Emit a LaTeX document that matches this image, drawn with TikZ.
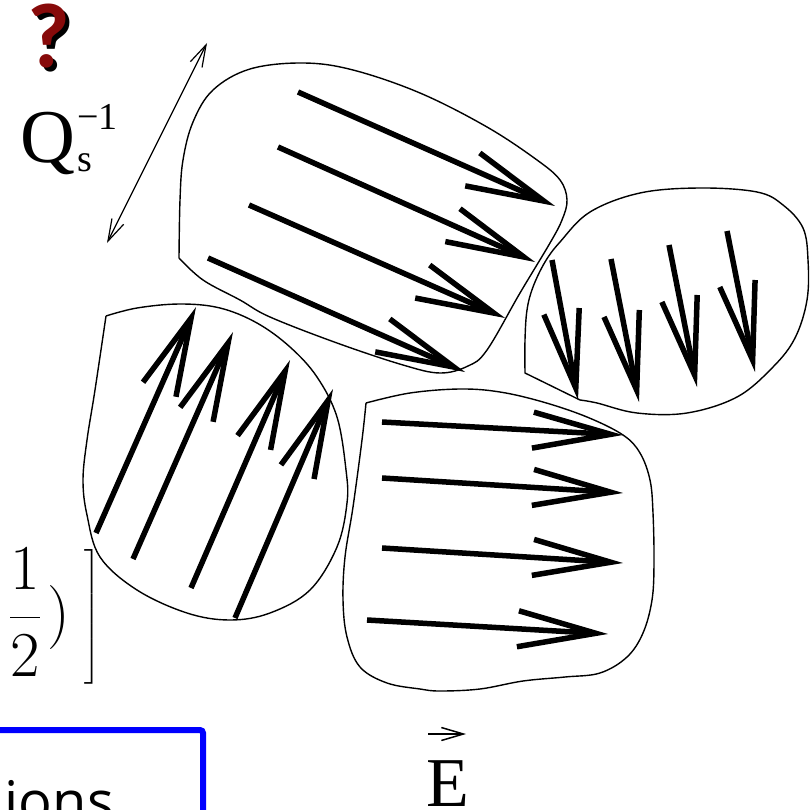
\RequirePackage{fix-cm}
\documentclass[tikz,border=0pt]{standalone}
\usepackage{exscale}
\usepackage[no-math]{fontspec}
\usepackage{tikz}
\usetikzlibrary{arrows.meta}
\newfontfamily\timesfont{Liberation Serif}
\newfontfamily\slidefont{Open Sans}
\newfontfamily\calfont{Carlito}
\definecolor{questred}{RGB}{135,10,10}
\definecolor{slideblue}{RGB}{0,0,255}

\begin{document}
\begin{tikzpicture}[x=1pt, y=-1pt, every node/.style={inner sep=0pt}]
  \tikzstyle{domainline}=[line width=1.4pt, line join=round]
  \tikzstyle{fieldarrow}=[line width=5.5pt, -{Straight Barb[length=78pt, width=36pt, sharp]}]
  \tikzstyle{scalearrow}=[line width=1.2pt, {Straight Barb[length=22pt, width=13pt]}-{Straight Barb[length=22pt, width=13pt]}]
  \tikzstyle{vecarrow}=[line width=1.5pt, -{Straight Barb[length=22pt, width=13pt]}]
  \useasboundingbox (0,0) rectangle (809,810);
  \clip (0,0) rectangle (809,810);

  % colour domains
  \draw[domainline] plot[smooth, tension=0.6] coordinates {(179,258) (180,200) (183,160) (193,122) (213,90) (250,69) (303,63) (353,70) (420,93) (487,127) (537,160) (560,180) (567,200) (562,220) (550,243) (520,293) (487,350) (468,366) (440,373) (403,365) (337,343) (270,317) (240,300) (203,280) (179,258)};
  \draw[domainline] plot[smooth, tension=0.6] coordinates {(525,373) (525,340) (527,310) (533,287) (545,262) (560,242) (590,212) (640,193) (700,188) (757,192) (783,205) (803,228) (808,260) (807,300) (795,338) (773,367) (737,397) (687,413) (637,413) (597,403) (580,400)} -- cycle;
  \draw[domainline] plot[smooth, tension=0.6] coordinates {(106,316) (95,390) (87,440) (83,480) (87,515) (100,557) (137,590) (187,613) (230,620) (270,613) (310,590) (337,547) (347,503) (346,470) (337,417) (317,377) (290,347) (257,323) (220,308) (180,304) (137,308) (106,316)};
  \draw[domainline] plot[smooth, tension=0.6] coordinates {(366,403) (362,440) (353,507) (345,557) (343,600) (347,637) (360,667) (387,683) (420,689) (440,691) (480,689) (523,681) (565,677) (600,673) (627,657) (643,633) (652,600) (654,563) (653,513) (650,480) (640,453) (623,435) (587,417) (543,402) (500,392) (460,389) (410,393) (366,403)};

  % field vectors
  \draw[fieldarrow] (298,92) -- (555,206);
  \draw[fieldarrow] (278,147) -- (535,262);
  \draw[fieldarrow] (249,205) -- (505,318);
  \draw[fieldarrow] (208,258) -- (465,372);
  \draw[fieldarrow] (552,260) -- (578,400);
  \draw[fieldarrow] (611,259) -- (639,402);
  \draw[fieldarrow] (669,245) -- (697,387);
  \draw[fieldarrow] (727,231) -- (755,372);
  \draw[fieldarrow] (96,533) -- (196,307);
  \draw[fieldarrow] (133,559) -- (233,332);
  \draw[fieldarrow] (191,588) -- (290,360);
  \draw[fieldarrow] (235,618) -- (333,389);
  \draw[fieldarrow] (382,422) -- (623,435);
  \draw[fieldarrow] (382,478) -- (623,493);
  \draw[fieldarrow] (382,548) -- (623,563);
  \draw[fieldarrow] (367,620) -- (608,634);

  % labels
  \node[font=\calfont\bfseries\fontsize{92}{100}\selectfont, anchor=base] (qshadow) at (53,72) {?};
  \node[font=\calfont\bfseries\fontsize{92}{100}\selectfont, anchor=base, text=questred] (qmark) at (49,68) {?};
  \node[font=\timesfont\fontsize{76}{80}\selectfont, anchor=base west] (qslabel) at (20,163)
    {Q\rlap{\hspace{2pt}\raisebox{33pt}{\fontsize{38}{40}\selectfont −1}}\hspace{2pt}\raisebox{-9pt}{\fontsize{38}{40}\selectfont s}};
  \coordinate (scaletop) at (207,43);
  \coordinate (scalebot) at (107,243);
  \draw[scalearrow] (scalebot) -- (scaletop);

  \node[font=\fontsize{64}{70}\selectfont, anchor=base west] (halfbrk) at (7.6,633) {$\left.\displaystyle\frac{1}{2}\mkern2mu)\mkern4mu\right]$};

  \draw[slideblue, line width=6pt, rounded corners=3pt] (-20,730) -- (203,730) -- (203,830);
  \node[font=\slidefont\fontsize{56}{60}\selectfont, anchor=base east] (ionslabel) at (114,821) {ions};

  \node[font=\timesfont\fontsize{70}{80}\selectfont, anchor=base west] (efield) at (426,806) {E};
  \coordinate (evecl) at (428,734);
  \coordinate (evecr) at (466,734);
  \draw[vecarrow] (evecl) -- (evecr);
\end{tikzpicture}
\end{document}
